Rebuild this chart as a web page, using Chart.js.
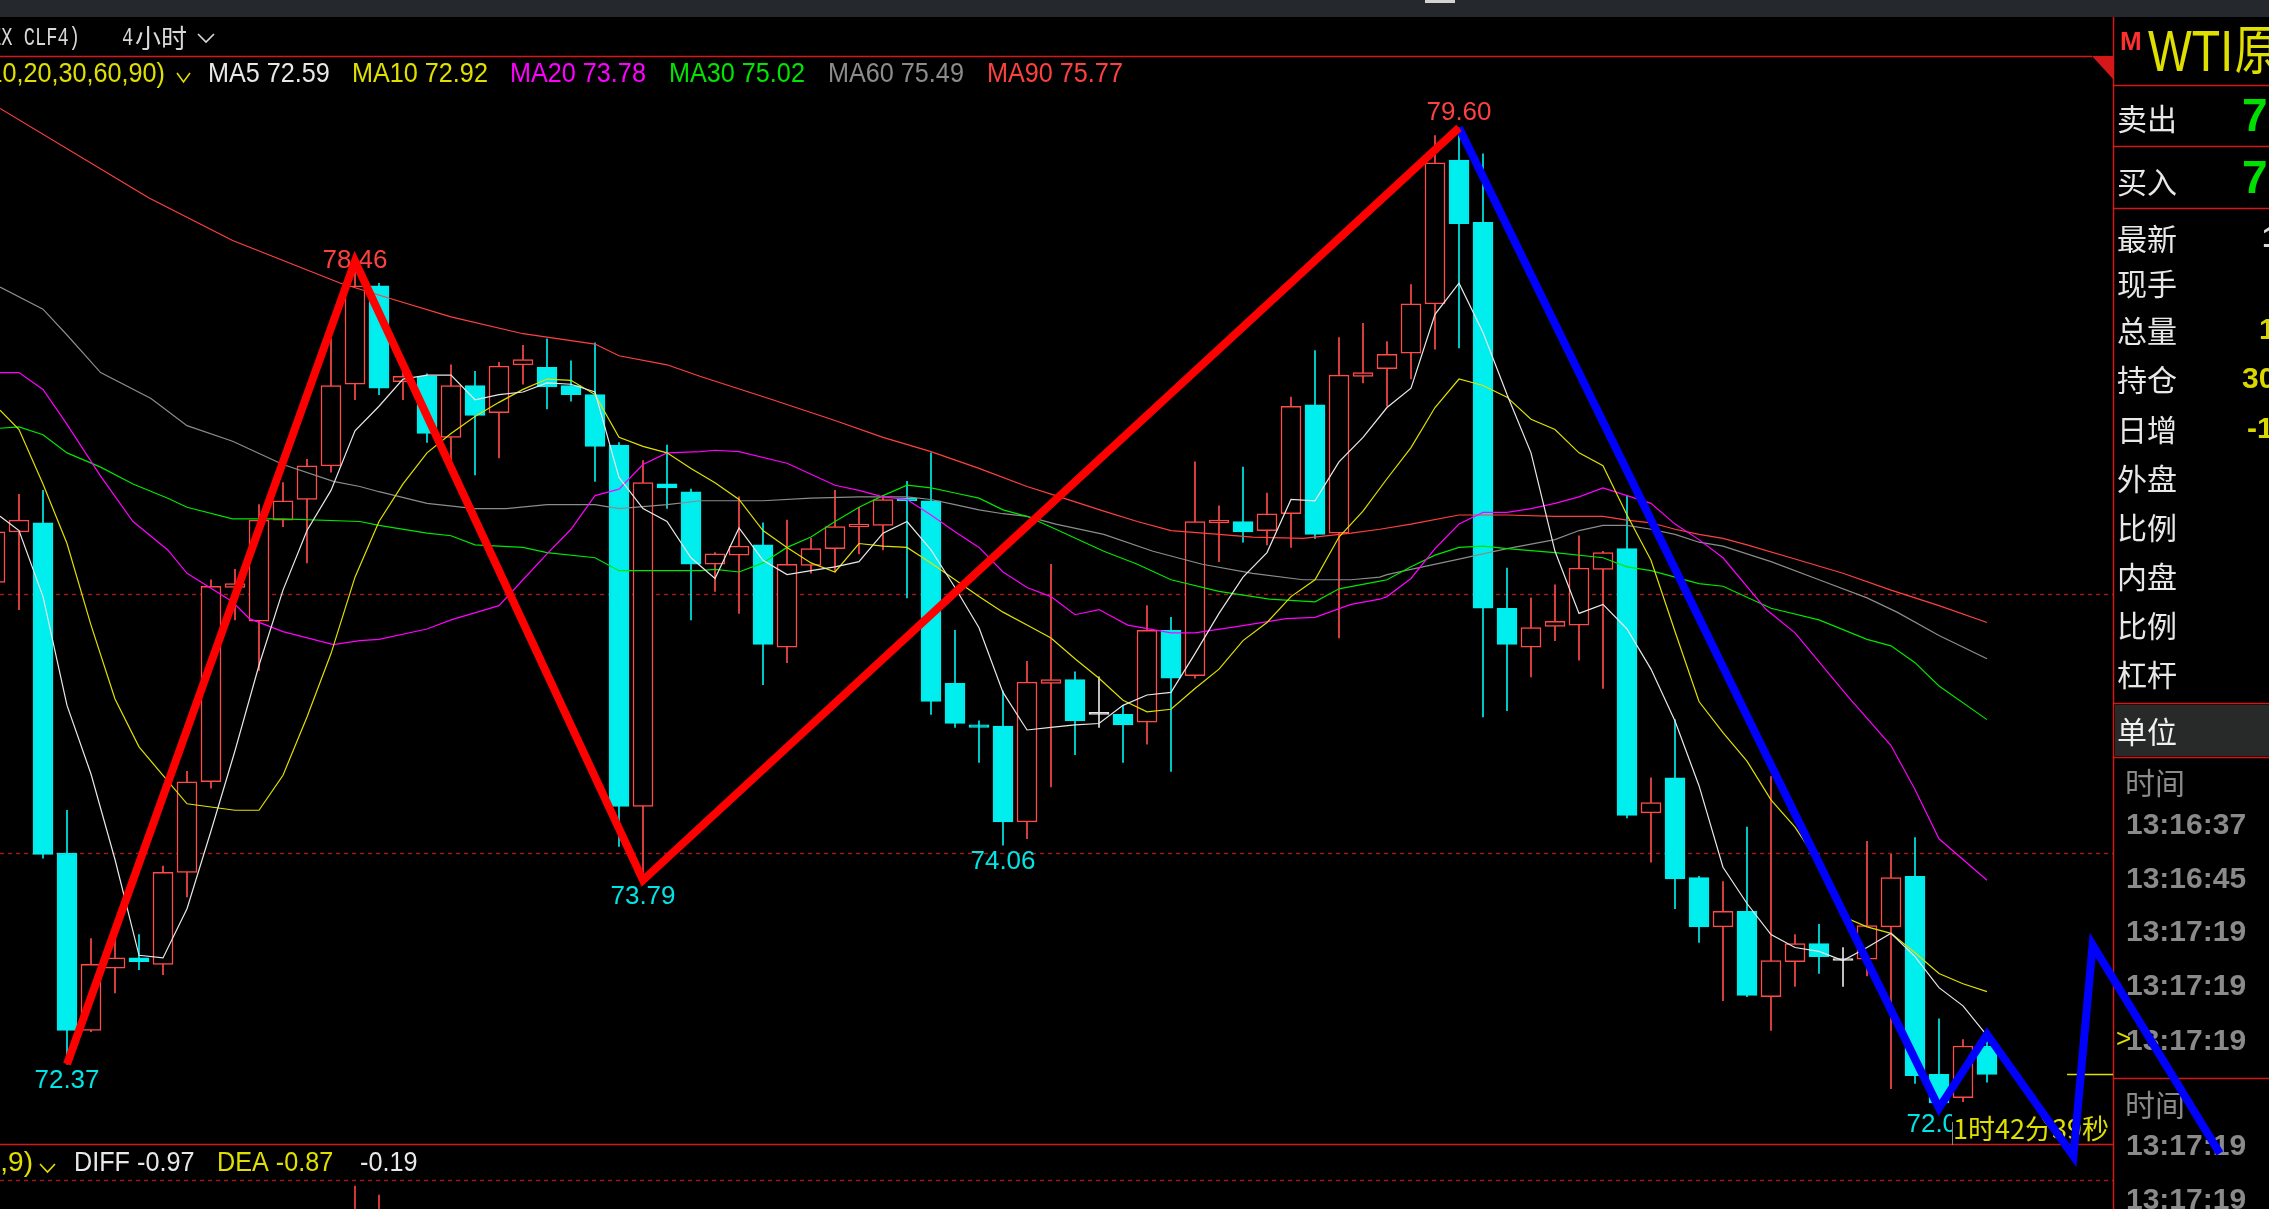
<!DOCTYPE html>
<html lang="zh-CN">
<head>
<meta charset="utf-8">
<title>WTI原油 4小时</title>
<script src="https://cdn.jsdelivr.net/npm/chart.js@4.4.1/dist/chart.umd.min.js"></script>
<style>
  html, body { margin: 0; padding: 0; background: #000; overflow: hidden; }
  canvas { display: block; }
</style>
</head>
<body>
<canvas id="kline" width="2269" height="1209"></canvas>
<script>
// K线: index -1 .. 82, 4小时
const FIRST_IDX = -1;
const OPENS = [76.09,76.48,76.55,74.00,72.63,73.11,73.19,73.14,73.85,74.55,76.05,75.79,76.57,76.73,76.99,77.62,78.38,77.64,77.68,77.21,77.61,77.40,77.77,77.75,77.61,77.54,77.15,74.36,76.85,76.79,76.23,76.30,76.38,75.59,76.22,76.35,76.52,76.53,76.74,76.72,75.31,74.99,74.98,74.24,75.31,75.34,75.07,75.07,75.01,75.72,75.37,76.55,76.56,76.49,76.62,77.46,76.47,77.68,77.74,77.86,78.24,79.35,78.87,75.89,75.59,75.75,75.76,76.19,76.35,74.31,74.58,73.81,73.43,73.55,72.89,73.16,73.30,73.17,73.18,73.43,73.82,72.29,72.11,72.51];
const HIGHS = [76.73,76.77,76.80,74.33,73.34,73.39,73.37,73.90,74.63,76.11,76.19,76.69,76.86,77.04,77.97,78.57,78.40,77.75,77.70,77.77,77.72,77.79,77.92,77.97,77.80,77.94,77.17,77.03,77.15,76.81,76.32,76.75,76.55,76.57,76.43,76.80,76.67,76.76,76.87,77.09,75.72,75.02,75.25,75.48,76.23,75.40,75.36,75.14,75.91,75.82,77.02,76.68,76.98,76.78,77.52,77.88,77.98,78.09,77.95,78.39,79.54,79.60,79.40,76.20,75.97,76.07,76.45,76.33,76.76,74.58,75.03,73.82,73.78,74.20,74.59,73.37,73.45,73.27,74.09,73.99,74.12,72.72,72.56,72.60];
const LOWS = [75.95,75.88,73.96,72.37,72.62,72.92,73.10,73.06,73.66,74.50,75.80,75.41,76.52,76.24,76.94,77.50,77.54,77.50,77.17,77.03,76.92,77.05,77.62,77.43,77.49,76.87,74.05,73.79,76.66,75.80,76.02,75.85,75.30,75.47,76.16,76.17,76.31,76.34,75.97,75.07,74.97,74.70,74.06,74.11,74.51,74.76,74.97,74.70,74.84,74.63,75.35,76.25,76.40,76.38,76.36,76.43,75.66,77.63,77.45,77.66,77.89,77.90,75.05,75.10,75.36,75.64,75.49,75.27,74.27,73.93,73.57,73.31,72.86,72.89,72.63,72.97,73.07,72.97,73.05,72.18,72.22,72.03,72.08,72.23];
const CLOSES = [76.48,76.57,73.99,72.63,73.14,73.19,73.16,73.85,74.55,76.06,76.08,76.57,76.72,76.99,77.61,78.38,77.59,77.68,77.24,77.61,77.38,77.76,77.81,77.60,77.54,77.14,74.36,76.86,76.82,76.23,76.31,76.37,75.61,76.23,76.35,76.52,76.54,76.73,76.72,75.17,75.00,74.97,74.24,75.32,75.34,75.02,75.07,74.99,75.72,75.35,76.56,76.57,76.48,76.62,77.45,76.46,77.69,77.71,77.85,78.24,79.33,78.86,75.89,75.61,75.74,75.79,76.20,76.32,74.29,74.39,73.80,73.43,73.55,72.90,73.17,73.30,73.20,73.17,73.44,73.81,72.28,72.07,72.51,72.29];

const range = (a, b) => Array.from({ length: b - a + 1 }, (_, k) => a + k);

// 均线 (x = K线序号, y = 价格)
const MA5_X = [-0.79, ...range(0, 82)];
const MA5 = [76.60,76.49,75.98,75.14,74.61,73.95,73.21,73.19,73.57,74.17,74.79,75.45,76.03,76.49,76.80,77.26,77.45,77.66,77.69,77.69,77.50,77.54,77.56,77.63,77.62,77.56,76.90,76.66,76.56,76.28,76.12,76.51,76.26,76.15,76.18,76.21,76.25,76.47,76.56,76.34,76.05,75.74,75.24,74.95,74.97,74.99,75.00,75.14,75.22,75.24,75.54,75.85,76.13,76.32,76.73,76.72,77.02,77.21,77.44,77.59,78.16,78.40,78.02,77.54,77.09,76.33,75.85,75.92,75.73,75.42,75.02,74.52,73.89,73.61,73.37,73.27,73.24,73.17,73.27,73.38,73.20,72.96,72.82,72.59];
const MA10_X = [-0.79, ...range(0, 7), ...range(9, 82)];
const MA10 = [77.42,77.27,76.85,76.39,75.76,75.19,74.82,74.60,74.38,74.33,74.33,74.60,75.05,75.54,76.13,76.56,76.85,77.09,77.24,77.37,77.48,77.58,77.66,77.65,77.54,77.21,77.14,77.09,76.97,76.86,76.73,76.49,76.36,76.24,76.17,76.39,76.37,76.36,76.24,76.11,75.98,75.86,75.76,75.66,75.50,75.35,75.18,75.09,75.11,75.27,75.42,75.64,75.78,75.98,76.11,76.44,76.64,76.89,77.13,77.44,77.66,77.61,77.52,77.35,77.27,77.09,76.99,76.61,76.26,75.71,75.17,74.93,74.71,74.41,74.20,73.92,73.51,73.43,73.38,73.23,73.07,72.99,72.93];
const MA20_X = [-0.79,0,1,2,3.4,4.75,6.2,7,8.9,9.6,11,13.1,14.2,15,17,18,20,21,22,23,24,25,26,27,28.4,29,30,32,34,35,36,37,38,39,40,41,42,43,44,45,46.2,48,49,50.8,52.8,54,55.5,56.7,57,58,59,60,61,62,63,64,65,66,67,68,69,70,71,72.8,74,76.2,78,79,80,82];
const MA20 = [77.71,77.71,77.58,77.31,76.91,76.56,76.34,76.16,75.94,75.81,75.71,75.61,75.64,75.65,75.73,75.80,75.91,76.11,76.31,76.50,76.76,76.81,77.00,77.09,77.10,77.11,77.10,77.01,76.84,76.80,76.75,76.73,76.61,76.48,76.36,76.17,76.05,75.98,75.84,75.88,75.76,75.70,75.70,75.75,75.81,75.82,75.92,75.96,75.98,76.12,76.35,76.54,76.63,76.63,76.66,76.70,76.75,76.82,76.76,76.70,76.54,76.42,76.28,75.88,75.70,75.21,74.83,74.49,74.11,73.79];
const MA30_X = [-0.79,0,1,2,3.4,4.75,6.2,7,8.9,11,14.2,15,17,18,19,21,22,24,25,26,28.4,29,30,31,32,33,34,35,36,37,38,39,40,41,42,43.2,45.2,46.6,48,50,52.1,54,55,56.7,57,58,59,60,61,62,64,66,67,68,69,70,71,73,75,77,78,79,80,82];
const MA30 = [77.28,77.29,77.23,77.09,76.98,76.85,76.74,76.67,76.58,76.58,76.56,76.53,76.47,76.45,76.38,76.36,76.32,76.28,76.18,76.18,76.18,76.19,76.17,76.24,76.36,76.44,76.56,76.67,76.76,76.84,76.82,76.78,76.74,76.65,76.60,76.50,76.33,76.23,76.11,76.02,75.96,75.94,76.04,76.10,76.11,76.21,76.30,76.36,76.37,76.35,76.32,76.28,76.21,76.18,76.13,76.08,76.06,75.89,75.80,75.65,75.60,75.47,75.29,75.03];
const MA60_X = [-0.79,1,2,3.4,5.5,7,8.9,11,13.1,14.2,15,17,19,20.3,22,24,25,27,28.4,31,33,35,37,38,39,40,41,42,43.2,45.2,47.25,49.3,51.4,53.5,55.5,56.7,57,58,60,62,64,65,66,67,68,69,70,71,73,75,77,78.25,80,82];
const MA60 = [78.37,78.20,78.00,77.71,77.51,77.30,77.18,77.00,76.87,76.83,76.79,76.70,76.66,76.66,76.69,76.69,76.66,76.69,76.72,76.72,76.74,76.75,76.75,76.73,76.69,76.65,76.62,76.60,76.54,76.46,76.33,76.23,76.16,76.11,76.11,76.13,76.15,76.19,76.27,76.35,76.42,76.49,76.53,76.53,76.50,76.46,76.40,76.37,76.25,76.11,75.97,75.86,75.68,75.50];
const MA90_X = [-0.79,5.4,8.9,13.4,15.5,18,21,24,25,27,28.4,31.4,34,36,38,40,42,43.2,45.2,46.6,48,50,51.4,53.5,55.5,56.7,58,60,62,64,66,67,68,69,70,71,72,74,76,78,80,82];
const MA90 = [79.75,79.06,78.73,78.40,78.28,78.14,78.01,77.93,77.84,77.77,77.68,77.50,77.34,77.21,77.10,76.97,76.83,76.76,76.64,76.56,76.49,76.46,76.44,76.43,76.47,76.50,76.54,76.61,76.61,76.60,76.60,76.57,76.55,76.50,76.46,76.43,76.38,76.27,76.16,76.03,75.91,75.78];

// 画线 (波段)
const WAVE_UP_X = [2, 14, 26, 60];
const WAVE_UP_Y = [72.37, 78.57, 73.79, 79.60];
const WAVE_DN_X = [60, 80, 82, 85.6, 86.4, 91.7];
const WAVE_DN_Y = [79.60, 72.03, 72.60, 71.66, 73.29, 71.68];

// MACD 柱
const MACD_X = [14, 15];
const MACD_HIST = [0.23, 0.14];

const MARK_IDX  = [2, 14, 26, 41, 60, 80];
const MARK_TEXT = ["72.37", "78.46", "73.79", "74.06", "79.60", "72.03"];
const MARK_HIGH = [false, true, false, false, true, false];

const MA_NAMES  = ["MA5", "MA10", "MA20", "MA30", "MA60", "MA90"];
const MA_VALUES = ["72.59", "72.92", "73.78", "75.02", "75.49", "75.77"];
const MA_COLORS = ["#e8e8e8", "#e0e000", "#ff00ff", "#00e600", "#8c8c8c", "#ff4040"];

const GRID_PRICES = [74, 76];
const LAST_PRICE = 72.29;

const QUOTE_LABELS = ["最新","现手","总量","持仓","日增","外盘","比例","内盘","比例","杠杆"];
const TICK_TIMES = ["13:16:37","13:16:45","13:17:19","13:17:19","13:17:19"];
const TICK_TIMES_2 = ["13:17:19","13:17:19"];

const W = 2269, H = 1209, PANEL_X = 2113;
const RED = "#d4181a", DASH_RED = "#9c1a1a";
const UP = "#ff4a4a", DOWN = "#00eeee", FLAT = "#e6e6e6";
const SANS = '"Liberation Sans", Arial, sans-serif';
const MONO = '"Liberation Mono", monospace';
const CJK = '"Noto Sans CJK SC", "Noto Sans", sans-serif';

const xy = (xs, ys) => xs.map((x, k) => ({ x, y: ys[k] }));
const candleIdx = OPENS.map((_, k) => FIRST_IDX + k);
const tones = candleIdx.map((_, k) => CLOSES[k] > OPENS[k] ? UP : CLOSES[k] < OPENS[k] ? DOWN : FLAT);
const bodyFill = candleIdx.map((_, k) => CLOSES[k] > OPENS[k] ? "#000" : tones[k]);

function txt(c, s, x, y, font, color, align = "left", sx = 1) {
  c.save();
  c.font = font; c.fillStyle = color;
  c.textAlign = align; c.textBaseline = "middle";
  c.translate(x, y); c.scale(sx, 1);
  c.fillText(s, 0, 0);
  c.restore();
}
function hline(c, x0, x1, y, color, dash) {
  c.save();
  c.strokeStyle = color; c.lineWidth = 1.5;
  c.setLineDash(dash || []);
  c.beginPath(); c.moveTo(x0, y); c.lineTo(x1, y); c.stroke();
  c.restore();
}
function vmark(c, x, y, w, h, color) {
  c.save();
  c.strokeStyle = color; c.lineWidth = 1.6;
  c.beginPath(); c.moveTo(x, y); c.lineTo(x + w / 2, y + h); c.lineTo(x + w, y); c.stroke();
  c.restore();
}

const chrome = {
  id: "chrome",
  beforeDatasetsDraw(chart) {
    const c = chart.ctx, xs = chart.scales.x, ys = chart.scales.y;
    c.save();
    c.fillStyle = "#000"; c.fillRect(0, 0, W, H);
    c.fillStyle = "#25282d"; c.fillRect(0, 0, W, 17);
    c.fillStyle = "#d4d4d4"; c.fillRect(1425, 0, 30, 3);

    // 网格 + 边框
    GRID_PRICES.forEach(p => hline(c, 0, PANEL_X, Math.round(ys.getPixelForValue(p)) + 0.5, DASH_RED, [4, 4]));
    hline(c, 0, 2092, 56.5, RED);
    c.fillStyle = RED;
    c.beginPath(); c.moveTo(2092, 56); c.lineTo(PANEL_X, 56); c.lineTo(PANEL_X, 79); c.closePath(); c.fill();
    hline(c, 0, PANEL_X, 1144.5, RED);
    hline(c, 0, PANEL_X, 1180.5, DASH_RED, [4, 4]);
    c.strokeStyle = RED; c.lineWidth = 1.5;
    c.beginPath(); c.moveTo(PANEL_X + 0.5, 17); c.lineTo(PANEL_X + 0.5, H); c.stroke();
    [85, 146, 208, 703, 757, 1078].forEach(y => hline(c, PANEL_X, W, y + 0.5, RED));

    // 标题
    txt(c, "(NYMEX CLF4)", 80, 38, "26px " + MONO, "#d8d8d8", "right", 0.72);
    txt(c, "4", 122, 38, "26px " + MONO, "#d8d8d8", "left", 0.72);
    txt(c, "小时", 135, 38, "26px " + CJK, "#d8d8d8");
    vmark(c, 198, 34, 16, 8, "#d8d8d8");

    // 均线图例
    txt(c, "MA(5,10,20,30,60,90)", 165, 74, "28px " + SANS, "#e0e000", "right", 0.9);
    vmark(c, 177, 73, 13, 9, "#e0e000");
    const maX = [208, 352, 510, 669, 828, 987];
    MA_NAMES.forEach((n, k) => txt(c, n + " " + MA_VALUES[k], maX[k], 74, "28px " + SANS, MA_COLORS[k], "left", 0.9));

    // MACD 图例
    txt(c, "MACD(12,26,9)", 33, 1163, "28px " + SANS, "#e0e000", "right");
    vmark(c, 40, 1164, 15, 8, "#e0e000");
    txt(c, "DIFF -0.97", 74, 1163, "28px " + SANS, "#e8e8e8", "left", 0.9);
    txt(c, "DEA -0.87", 217, 1163, "28px " + SANS, "#e0e000", "left", 0.9);
    txt(c, "-0.19", 360, 1163, "28px " + SANS, "#e8e8e8", "left", 0.9);

    // 高低点标注
    MARK_IDX.forEach((i, k) => {
      const px = xs.getPixelForValue(i);
      const pv = ys.getPixelForValue(parseFloat(MARK_TEXT[k]));
      const py = MARK_HIGH[k] ? pv - 15 : pv + 17;
      txt(c, MARK_TEXT[k], px, py, "26px " + SANS, MARK_HIGH[k] ? "#ff4040" : "#00e6e6", "center");
    });
    // 倒计时
    c.fillStyle = "#000"; c.fillRect(1952, 1113, 158, 30);
    c.fillStyle = "#8a8a8a"; c.fillRect(1952, 1122, 1, 23);
    txt(c, "1时42分39秒", 1953, 1129, "27px " + CJK, "#e0e000");
    // 最新价线
    const lp = Math.round(ys.getPixelForValue(LAST_PRICE)) + 0.5;
    hline(c, 2067, PANEL_X, lp, "#e0e000");

    // 右侧报价栏
    txt(c, "M", 2120, 43, "bold 26px " + SANS, "#ff3030");
    c.save();
    c.fillStyle = "#e0e000"; c.textBaseline = "alphabetic";
    c.translate(2148, 71); c.scale(0.8, 1);
    c.font = "58px " + SANS;
    const wti = c.measureText("WTI").width;
    c.fillText("WTI", 0, 0);
    c.font = "54px " + CJK;
    c.fillText("原", wti + 2, -1);
    c.restore();
    txt(c, "卖出", 2117, 119, "30px " + CJK, "#e8e8e8");
    txt(c, "买入", 2117, 182, "30px " + CJK, "#e8e8e8");
    txt(c, "72", 2242, 118, "bold 46px " + SANS, "#00e000");
    txt(c, "72", 2242, 180, "bold 46px " + SANS, "#00e000");
    const rowY = [239, 284, 331, 380, 430, 479, 528, 577, 626, 675];
    QUOTE_LABELS.forEach((s, k) => txt(c, s, 2117, rowY[k], "30px " + CJK, "#e8e8e8"));
    txt(c, "1", 2262, 239, "bold 30px " + SANS, "#d8d8d8");
    txt(c, "1", 2259, 331, "bold 30px " + SANS, "#d8d800");
    txt(c, "30", 2242, 380, "bold 30px " + SANS, "#d8d800");
    txt(c, "-1", 2247, 430, "bold 30px " + SANS, "#d8d800");

    c.fillStyle = "#272a29"; c.fillRect(PANEL_X + 2, 705, W - PANEL_X, 51);
    txt(c, "单位", 2117, 732, "30px " + CJK, "#f0f0f0");
    txt(c, "时间", 2125, 783, "30px " + CJK, "#8a8a8a");
    const tY = [826, 880, 933, 987, 1042];
    TICK_TIMES.forEach((s, k) => txt(c, s, 2126, tY[k], "bold 30px " + SANS, "#8a8a8a"));
    txt(c, ">", 2116, 1040, "26px " + SANS, "#e0e000");
    txt(c, "时间", 2125, 1105, "30px " + CJK, "#8a8a8a");
    TICK_TIMES_2.forEach((s, k) => txt(c, s, 2126, 1147 + k * 54, "bold 30px " + SANS, "#8a8a8a"));
    c.restore();
  },
};

const maLine = (xs, ys, color) => ({
  type: "line", data: xy(xs, ys), yAxisID: "y",
  borderColor: color, borderWidth: 1.2, pointRadius: 0, tension: 0, order: 1,
});
const waveLine = (xs, ys, color) => ({
  type: "line", data: xy(xs, ys), yAxisID: "y",
  borderColor: color, borderWidth: 8, pointRadius: 0, tension: 0, order: 0,
  borderJoinStyle: "miter",
});

new Chart(document.getElementById("kline"), {
  type: "bar",
  data: {
    datasets: [
      waveLine(WAVE_UP_X, WAVE_UP_Y, "#ff0000"),
      waveLine(WAVE_DN_X, WAVE_DN_Y, "#0000ff"),
      maLine(MA5_X, MA5, MA_COLORS[0]),
      maLine(MA10_X, MA10, MA_COLORS[1]),
      maLine(MA20_X, MA20, MA_COLORS[2]),
      maLine(MA30_X, MA30, MA_COLORS[3]),
      maLine(MA60_X, MA60, MA_COLORS[4]),
      maLine(MA90_X, MA90, MA_COLORS[5]),
      {
        type: "bar", yAxisID: "y", order: 2,
        data: candleIdx.map((i, k) => ({ x: i, y: [OPENS[k], CLOSES[k]] })),
        backgroundColor: bodyFill, borderColor: tones, borderWidth: 1.5,
        borderSkipped: false, barThickness: 20, grouped: false, minBarLength: 2,
      },
      {
        type: "bar", yAxisID: "y", order: 3,
        data: candleIdx.map((i, k) => ({ x: i, y: [LOWS[k], HIGHS[k]] })),
        backgroundColor: tones, borderWidth: 0, barThickness: 1, grouped: false,
      },
      {
        type: "bar", yAxisID: "yM", order: 3,
        data: xy(MACD_X, MACD_HIST),
        backgroundColor: "#ff4040", borderWidth: 0, barThickness: 1, grouped: false,
      },
    ],
  },
  options: {
    responsive: false, animation: false, devicePixelRatio: 1, events: [],
    layout: { padding: 0 },
    plugins: { legend: { display: false }, tooltip: { enabled: false } },
    scales: {
      x: { type: "linear", min: -0.7917, max: 93.75, display: false, offset: false },
      y: { type: "linear", min: 71.251, max: 80.587, display: false },
      yM: { type: "linear", min: 0, max: 12.09, display: false },
    },
  },
  plugins: [chrome],
});
</script>
</body>
</html>
